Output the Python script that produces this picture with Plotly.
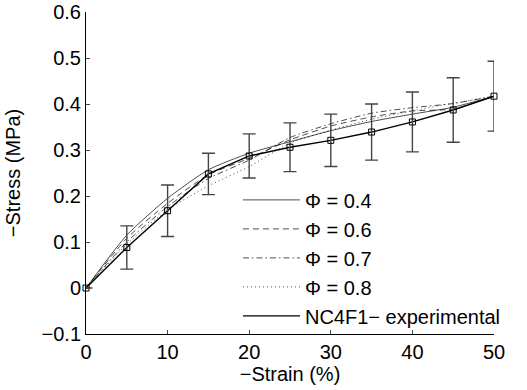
import plotly.graph_objects as go

strain = [0, 5, 10, 15, 20, 25, 30, 35, 40, 45, 50]

phi04 = [0, 0.115, 0.195, 0.257, 0.293, 0.318, 0.342, 0.362, 0.378, 0.393, 0.417]
phi06 = [0, 0.108, 0.184, 0.246, 0.282, 0.322, 0.352, 0.372, 0.385, 0.389, 0.417]
phi07 = [0, 0.100, 0.177, 0.238, 0.278, 0.327, 0.357, 0.380, 0.392, 0.401, 0.417]
phi08 = [0, 0.095, 0.170, 0.222, 0.264, 0.315, 0.343, 0.367, 0.385, 0.402, 0.417]

exp_mean = [0, 0.088, 0.168, 0.248, 0.287, 0.306, 0.321, 0.339, 0.361, 0.387, 0.417]
exp_err = [0, 0.047, 0.056, 0.045, 0.048, 0.053, 0.057, 0.061, 0.065, 0.070, 0.076]

x_ticks = [0, 10, 20, 30, 40, 50]
y_ticks = [-0.1, 0, 0.1, 0.2, 0.3, 0.4, 0.5, 0.6]

FONT = "Liberation Sans, Arial, sans-serif"

fig = go.Figure()

models = [
    ("Φ = 0.4", phi04, "solid"),
    ("Φ = 0.6", phi06, "6px,4px"),
    ("Φ = 0.7", phi07, "6px,3px,1.5px,3px"),
    ("Φ = 0.8", phi08, "1px,3px"),
]
for i, (name, ys, dash) in enumerate(models):
    fig.add_trace(go.Scatter(
        x=strain, y=ys, name=name, mode="lines",
        line=dict(color="black", width=0.7, dash=dash, shape="spline", smoothing=0.6),
        legendgroup=f"g{i}",
    ))

fig.add_trace(go.Scatter(
    x=strain, y=exp_mean, name="NC4F1− experimental", mode="lines",
    line=dict(color="black", width=1.4),
    legendgroup="g5",
))
fig.add_trace(go.Scatter(
    x=strain, y=exp_mean, mode="markers", showlegend=False,
    marker=dict(symbol="square-open", size=6, color="black", line=dict(width=1)),
    error_y=dict(type="data", array=exp_err, visible=True, color="#444444",
                 thickness=1.4, width=6.5),
    cliponaxis=False,
))

fig.update_layout(
    width=527, height=390,
    margin=dict(l=86, r=33, t=12, b=56, autoexpand=False),
    paper_bgcolor="white", plot_bgcolor="white",
    font=dict(family=FONT, size=20, color="black"),
    showlegend=True,
    legend=dict(
        x=0.3725, y=0.477, xanchor="left", yanchor="top",
        bgcolor="rgba(0,0,0,0)", borderwidth=0,
        font=dict(family=FONT, size=20, color="black"),
        tracegroupgap=0, traceorder="grouped", itemwidth=57,
    ),
    xaxis=dict(
        range=[0, 50], tickvals=x_ticks, ticks="inside", ticklen=4,
        showline=True, linecolor="black", linewidth=1, mirror=False,
        showgrid=False, zeroline=False, automargin=False,
        title=dict(text="−Strain (%)", font=dict(size=20), standoff=2),
        tickfont=dict(size=20),
    ),
    yaxis=dict(
        range=[-0.1, 0.6], tickvals=y_ticks, ticks="inside", ticklen=4,
        showline=True, linecolor="black", linewidth=1, mirror=False,
        showgrid=False, zeroline=False, automargin=False,
        title=dict(text="−Stress (MPa)", font=dict(size=20)),
        tickfont=dict(size=20),
    ),
)

fig.write_html("out.html", config={"displayModeBar": False},
               post_script="document.body.style.margin='0px';")
